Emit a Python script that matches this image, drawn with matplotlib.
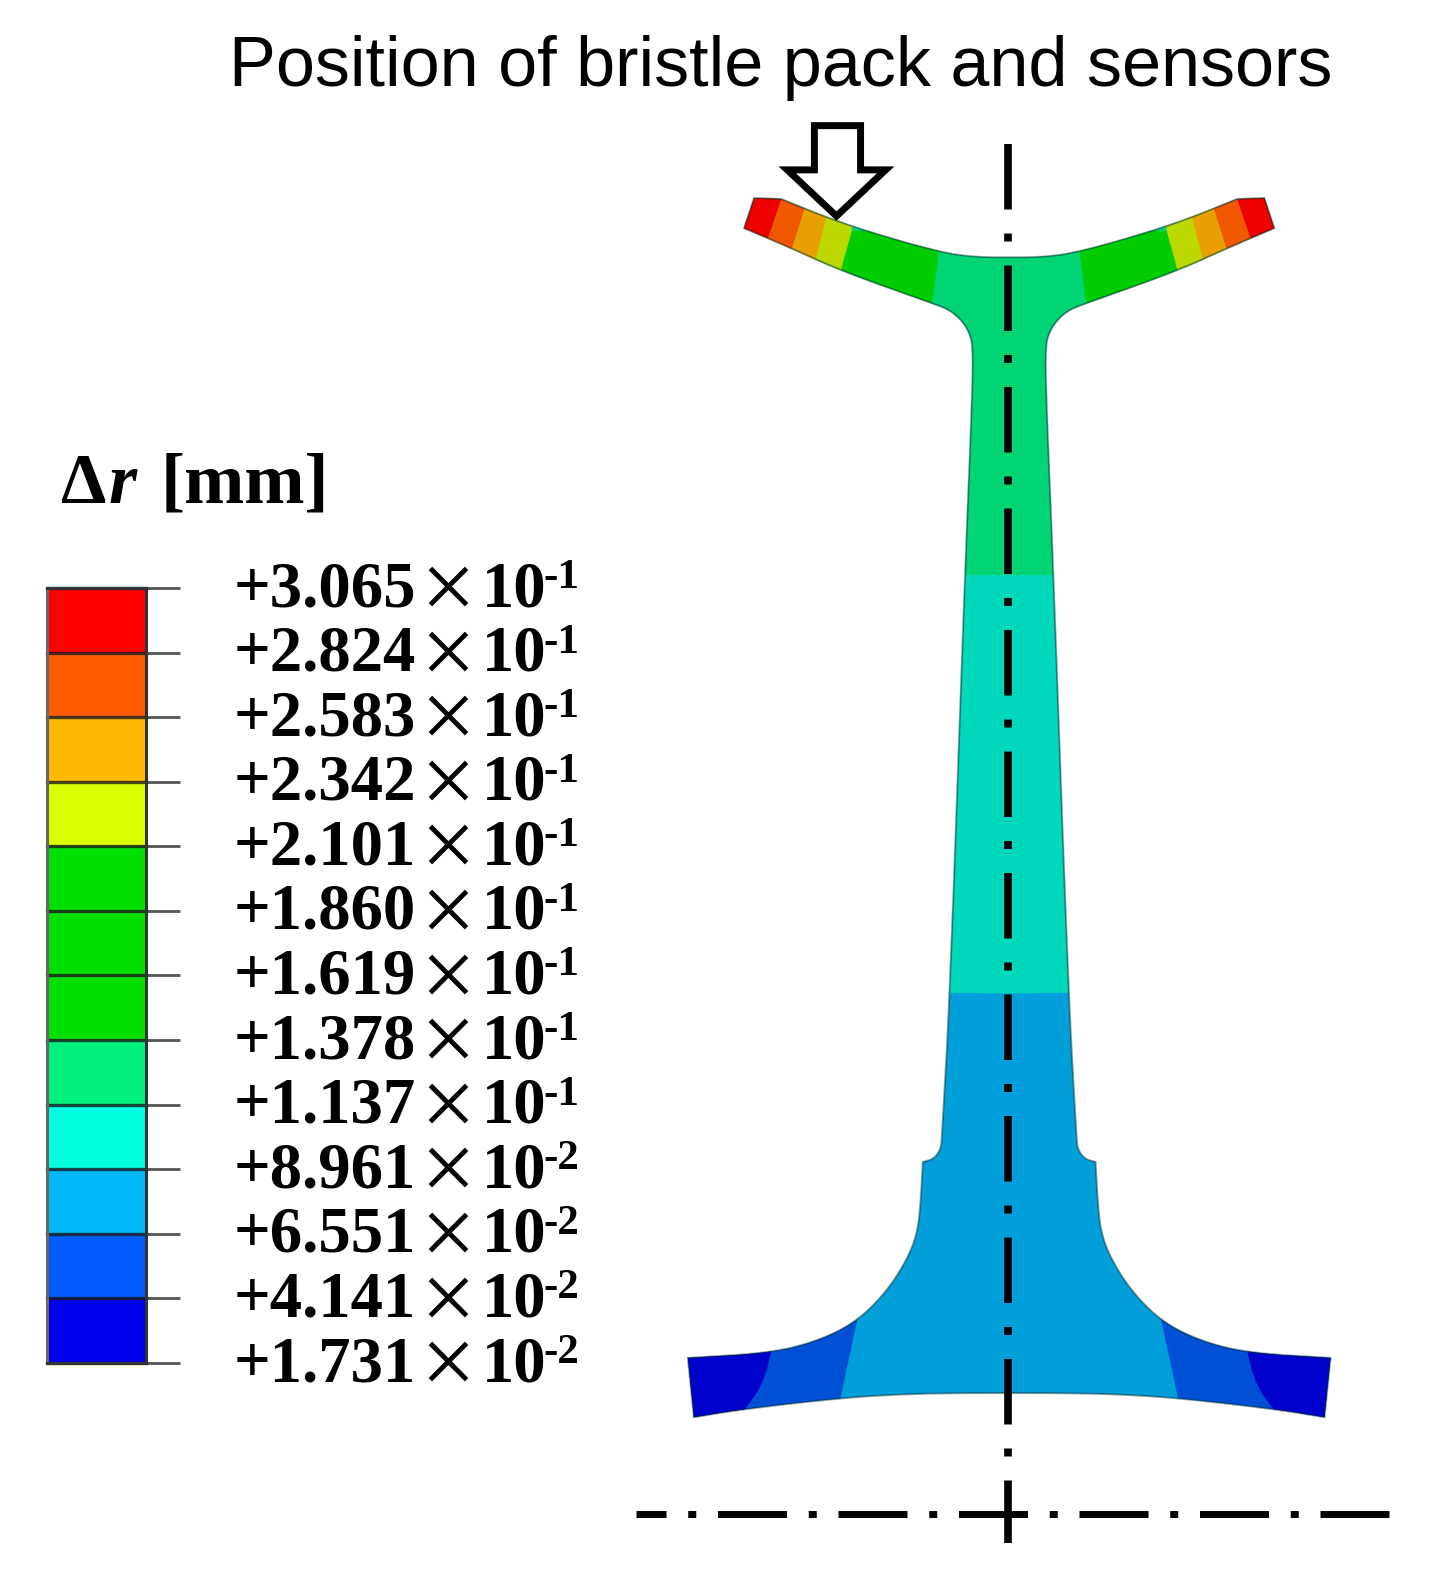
import numpy as np
import matplotlib
matplotlib.use('Agg')
import matplotlib.pyplot as plt
from matplotlib.patches import Polygon, PathPatch
from matplotlib.path import Path

plt.rcParams['lines.scale_dashes'] = False

# contour legend
levels = [3.065e-1, 2.824e-1, 2.583e-1, 2.342e-1, 2.101e-1, 1.860e-1, 1.619e-1,
          1.378e-1, 1.137e-1, 8.961e-2, 6.551e-2, 4.141e-2, 1.731e-2]
level_mantissa = ['+3.065', '+2.824', '+2.583', '+2.342', '+2.101', '+1.860', '+1.619',
                  '+1.378', '+1.137', '+8.961', '+6.551', '+4.141', '+1.731']
level_exp = ['-1', '-1', '-1', '-1', '-1', '-1', '-1', '-1', '-1', '-2', '-2', '-2', '-2']
legend_colors = ['#ff0000', '#ff5c00', '#ffb900', '#dcff00', '#00e000', '#00e000',
                 '#00e000', '#00f080', '#00ffe0', '#00b8f8', '#005cff', '#0000f0']

# left half of the section outline, split where the corners are sharp
top_edge = [(1005, 256), (985, 256), (965, 255), (943, 252), (900, 241), (835, 221), (778, 198)]
tip_edge = [(778, 198), (751, 197), (741, 227)]
flange_under = [(741, 227), (788, 247), (839, 270), (929, 302), (945, 308), (957, 318), (965, 330),
                (969, 345), (968, 400), (961, 570), (946, 990), (938, 1130), (937, 1143), (930, 1153),
                (919, 1156)]
step_edge = [(919, 1156), (917, 1193), (914, 1225), (904, 1252), (883, 1285), (853, 1315),
             (815, 1334), (768, 1346), (685, 1351)]
foot_edge = [(685, 1351), (691, 1410)]
bottom_edge = [(691, 1410), (740, 1402), (836, 1391), (900, 1387), (960, 1386), (1005, 1386)]

# colour zones along the section
base_color = '#009fda'
turquoise = '#00d8bc'
neck_green = '#00d474'
top_bands = [([(937, 230), (934, 255), (928, 300), (925, 325)], '#00cc00'),
             ([(851, 210), (848, 230), (837, 268), (834, 285)], '#bcd800'),
             ([(826, 200), (822, 219), (812, 257), (808, 275)], '#e8a000'),
             ([(806, 190), (800, 210), (789, 245), (783, 262)], '#f05800'),
             ([(781, 188), (777, 200), (765, 235), (760, 250)], '#ee0000')]
bottom_bands = [([(856, 1300), (853, 1315), (836, 1393), (833, 1410)], '#0050d6'),
                ([(769, 1335), (767, 1347), (762, 1368), (753, 1387), (738, 1406), (730, 1418)], '#0000cc')]


def smooth(pts, n=3):
    # corner cutting that keeps both end points
    pts = np.array(pts, dtype=float)
    for _ in range(n):
        q = 0.75 * pts[:-1] + 0.25 * pts[1:]
        r = 0.25 * pts[:-1] + 0.75 * pts[1:]
        mid = np.empty((2 * len(q), 2))
        mid[0::2] = q
        mid[1::2] = r
        pts = np.vstack([pts[:1], mid, pts[-1:]])
    return pts


W, H = 1438, 1566  # pixel frame the coordinates above were read in

fig = plt.figure(figsize=(14.44, 15.74), dpi=100)
ax = fig.add_axes([0, 0, 1, 1])
ax.set_xlim(0, W)
ax.set_ylim(H, 0)
ax.axis('off')

ax.text(777, 68, 'Position of bristle pack and sensors', family='Liberation Sans', fontsize=50.5,
        ha='center', va='center', color='black')

# section
axis_x = 1005
half = np.vstack([smooth(top_edge), np.array(tip_edge[1:], dtype=float), smooth(flange_under),
                  smooth(step_edge), smooth(foot_edge, 1), smooth(bottom_edge)])
mirror = half[::-1] * [-1, 1] + [2 * axis_x, 0]
shape_xy = np.vstack([half, mirror])
shape_path = Path(np.vstack([shape_xy, shape_xy[:1]]), closed=True)
shape = PathPatch(shape_path, facecolor=base_color, edgecolor='none', zorder=2)
ax.add_patch(shape)


def add_zone(xy, color):
    p = Polygon(xy, closed=True, facecolor=color, edgecolor=color, lw=0.5, zorder=3)
    ax.add_patch(p)
    p.set_clip_path(shape)


add_zone([(600, 100), (1400, 100), (1400, 985), (1005, 988), (600, 985)], turquoise)
add_zone([(600, 100), (1400, 100), (1400, 571), (1005, 572), (600, 571)], neck_green)

for boundary, color in top_bands + bottom_bands:
    b = smooth(boundary, 2)
    for side in (1, -1):
        x = axis_x + side * (b[:, 0] - axis_x)
        edge = axis_x - side * 400
        add_zone(list(zip(x, b[:, 1])) + [(edge, b[-1, 1]), (edge, b[0, 1])], color)

ax.add_patch(PathPatch(shape_path, facecolor='none', edgecolor=(0, 0.15, 0.15, 0.45), lw=1.4, zorder=4))

# arrow
ax.add_patch(Polygon([(811, 125), (857, 125), (857, 169), (882, 169), (833, 215),
                      (784, 169), (811, 169)], closed=True, facecolor='white', edgecolor='black',
                     lw=5, joinstyle='miter', zorder=5))

# centre lines
ax.plot([1004, 1004], [143, 1535], color='black', lw=5.5,
        ls=(0, (65.5 * 0.72, 24 * 0.72, 8 * 0.72, 24 * 0.72)), zorder=6)
ax.plot([1383, 633], [1506, 1506], color='black', lw=5,
        ls=(0, (69 * 0.72, 21.75 * 0.72, 8 * 0.72, 21.75 * 0.72)), zorder=6)

# legend bar on its own value axis
cax = fig.add_axes([47 / W, 1 - 1356 / H, 98 / W, 771 / H])
cax.set_xlim(0, 1)
cax.set_ylim(levels[-1], levels[0])
for i, c in enumerate(legend_colors):
    cax.barh(levels[i + 1], 1, height=levels[i] - levels[i + 1], align='edge', color=c,
             edgecolor='none')
cax.set_xticks([])
cax.set_yticks(levels)
cax.set_yticklabels([])
cax.yaxis.tick_right()
cax.tick_params(axis='y', length=24.5, width=2, color='#555555')
for lev in levels:
    cax.axhline(lev, color='#1a1a1a', lw=2.4, alpha=0.8, clip_on=False)
for name, s in cax.spines.items():
    s.set_linewidth(2.2)
    s.set_color('#666666' if name == 'left' else '#333333')

# legend labels, placed through the bar's value scale
for lev, m, e in zip(levels, level_mantissa, level_exp):
    y_px = ax.transData.inverted().transform(cax.transData.transform((0, lev)))[1]
    ax.text(233, y_px + 18, m, family='Liberation Serif', weight='bold', fontsize=46.5,
            ha='left', va='baseline')
    ax.text(446, y_px - 3, '\u00d7', family='Liberation Serif', fontsize=70,
            ha='center', va='center_baseline')
    ax.text(480, y_px + 18, '10', family='Liberation Serif', weight='bold', fontsize=46.5,
            ha='left', va='baseline')
    ax.text(541, y_px, e, family='Liberation Serif', weight='bold', fontsize=31,
            ha='left', va='baseline')

# legend title
ax.text(61, 500, '\u0394', family='Liberation Serif', weight='bold', fontsize=52, ha='left', va='baseline')
ax.text(108, 500, 'r', family='Liberation Serif', weight='bold', style='italic', fontsize=52, ha='left', va='baseline')
ax.text(160, 500, '[mm]', family='Liberation Serif', weight='bold', fontsize=52, ha='left', va='baseline')

fig.savefig('out.png', dpi=100)
